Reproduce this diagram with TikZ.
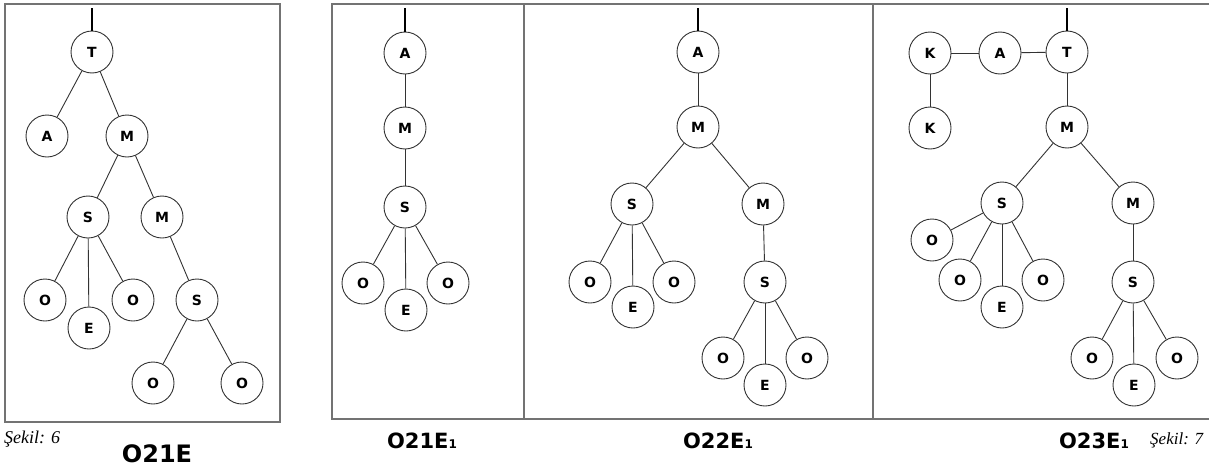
\documentclass[tikz,border=0pt]{standalone}
\usepackage{fontspec}
\setmainfont{Liberation Serif}
\setsansfont{DejaVu Sans}
\usetikzlibrary{positioning}
\tikzset{
letter/.style={
  circle,
  draw=black!80,
  fill=white,
  line width=0.9pt,
  minimum size=42pt,
  inner sep=0pt,
  font=\sffamily\bfseries\fontsize{14}{14}\selectfont},
line/.style={draw, black!80, line width=0.9pt},
root/.style={draw, black, line width=1.8pt},
frame/.style={draw, black!55, line width=1.6pt},
caption/.style={
  anchor=base,
  inner sep=0pt,
  font=\sffamily\bfseries\fontsize{21}{21}\selectfont},
sekil/.style={
  anchor=base west,
  inner sep=0pt,
  font=\itshape\fontsize{18}{18}\selectfont}
}
\newcommand{\sub}[1]{{\fontsize{12}{12}\selectfont #1}}

\begin{document}
\begin{tikzpicture}[x=1pt,y=-1pt]
    \useasboundingbox (0,0) rectangle (1209,466);
    % frames
    \draw[frame] (5,4) rectangle (280,422);
    \draw[frame] (1209,4) -- (332,4) -- (332,419) -- (1209,419);
    \draw[frame] (524,4) -- (524,419);
    \draw[frame] (873,4) -- (873,419);
    % O21E
    \node [letter] (aT) at (92,52) {T};
    \node [letter] (aA) at (47,136) {A};
    \node [letter] (aM) at (127,136) {M};
    \node [letter] (aS) at (88,217) {S};
    \node [letter] (aM2) at (162,217) {M};
    \node [letter] (aO1) at (45,300) {O};
    \node [letter] (aE) at (89,328) {E};
    \node [letter] (aO2) at (133,300) {O};
    \node [letter] (aS2) at (197,300) {S};
    \node [letter] (aO3) at (153,383) {O};
    \node [letter] (aO4) at (242,383) {O};
    \coordinate (am) at (92,8);
    \path [root] (am) -- (aT.north);
    \path [line] (aT) -- (aA);
    \path [line] (aT) -- (aM);
    \path [line] (aM) -- (aS);
    \path [line] (aM) -- (aM2);
    \path [line] (aS) -- (aO1);
    \path [line] (aS) -- (aE);
    \path [line] (aS) -- (aO2);
    \path [line] (aM2) -- (aS2);
    \path [line] (aS2) -- (aO3);
    \path [line] (aS2) -- (aO4);
    % O21E1
    \node [letter] (bA) at (405,53) {A};
    \node [letter] (bM) at (405,128) {M};
    \node [letter] (bS) at (405,207) {S};
    \node [letter] (bO1) at (363,283) {O};
    \node [letter] (bE) at (406,310) {E};
    \node [letter] (bO2) at (448,283) {O};
    \coordinate (bm) at (405,8);
    \path [root] (bm) -- (bA.north);
    \path [line] (bA) -- (bM);
    \path [line] (bM) -- (bS);
    \path [line] (bS) -- (bO1);
    \path [line] (bS) -- (bE);
    \path [line] (bS) -- (bO2);
    % O22E1
    \node [letter] (cA) at (698,52) {A};
    \node [letter] (cM) at (698,127) {M};
    \node [letter] (cS) at (632,204) {S};
    \node [letter] (cM2) at (763,204) {M};
    \node [letter] (cO1) at (590,282) {O};
    \node [letter] (cE) at (633,307) {E};
    \node [letter] (cO2) at (674,282) {O};
    \node [letter] (cS2) at (765,282) {S};
    \node [letter] (cO3) at (723,358) {O};
    \node [letter] (cE2) at (765,385) {E};
    \node [letter] (cO4) at (807,358) {O};
    \coordinate (cm) at (698,8);
    \path [root] (cm) -- (cA.north);
    \path [line] (cA) -- (cM);
    \path [line] (cM) -- (cS);
    \path [line] (cM) -- (cM2);
    \path [line] (cS) -- (cO1);
    \path [line] (cS) -- (cE);
    \path [line] (cS) -- (cO2);
    \path [line] (cM2) -- (cS2);
    \path [line] (cS2) -- (cO3);
    \path [line] (cS2) -- (cE2);
    \path [line] (cS2) -- (cO4);
    % O23E1
    \node [letter] (dK1) at (930,53) {K};
    \node [letter] (dA) at (1000,53) {A};
    \node [letter] (dT) at (1067,52) {T};
    \node [letter] (dK2) at (930,128) {K};
    \node [letter] (dM) at (1067,127) {M};
    \node [letter] (dS) at (1002,203) {S};
    \node [letter] (dM2) at (1133,203) {M};
    \node [letter] (dO0) at (932,240) {O};
    \node [letter] (dO1) at (960,280) {O};
    \node [letter] (dE) at (1002,307) {E};
    \node [letter] (dO2) at (1043,280) {O};
    \node [letter] (dS2) at (1133,282) {S};
    \node [letter] (dO3) at (1092,358) {O};
    \node [letter] (dE2) at (1134,385) {E};
    \node [letter] (dO4) at (1177,358) {O};
    \coordinate (dm) at (1067,8);
    \path [root] (dm) -- (dT.north);
    \path [line] (dK1) -- (dA);
    \path [line] (dA) -- (dT);
    \path [line] (dK1) -- (dK2);
    \path [line] (dT) -- (dM);
    \path [line] (dM) -- (dS);
    \path [line] (dM) -- (dM2);
    \path [line] (dS) -- (dO0);
    \path [line] (dS) -- (dO1);
    \path [line] (dS) -- (dE);
    \path [line] (dS) -- (dO2);
    \path [line] (dM2) -- (dS2);
    \path [line] (dS2) -- (dO3);
    \path [line] (dS2) -- (dE2);
    \path [line] (dS2) -- (dO4);
    % captions
    \node [sekil] (sek6) at (4,443) {Şekil: 6};
    \node [caption, font=\sffamily\bfseries\fontsize{24}{24}\selectfont] (capa) at (157,462) {O21E};
    \node [caption] (capb) at (422,448) {O21E\sub{1}};
    \node [caption] (capc) at (718,448) {O22E\sub{1}};
    \node [caption] (capd) at (1094,448) {O23E\sub{1}};
    \node [sekil, font=\itshape\fontsize{17}{17}\selectfont] (sek7) at (1150,444) {Şekil: 7};
\end{tikzpicture}
\end{document}
